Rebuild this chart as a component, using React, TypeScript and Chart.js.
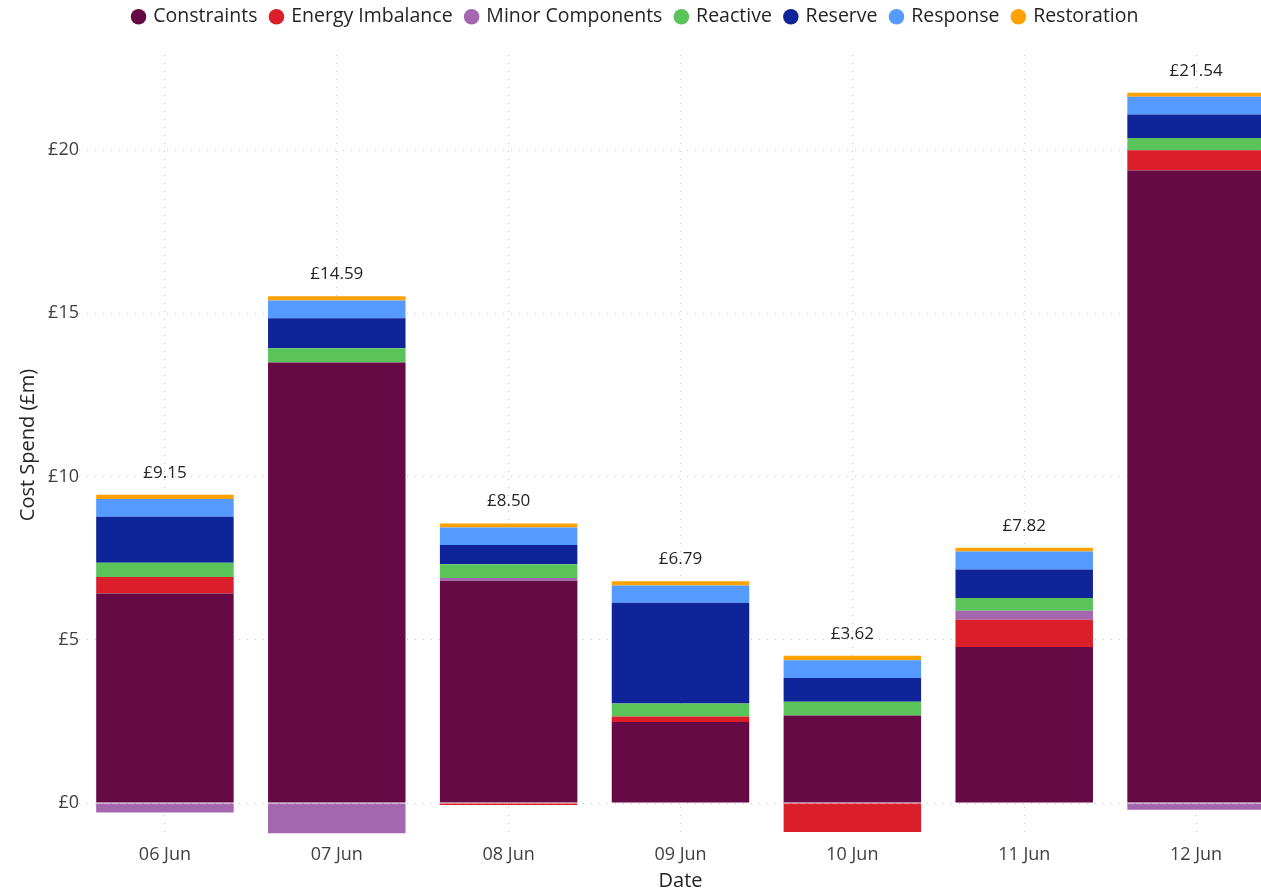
import React, { useEffect, useRef } from 'react';
import { Chart, registerables } from 'chart.js';

Chart.register(...registerables);

const categories = ['06 Jun', '07 Jun', '08 Jun', '09 Jun', '10 Jun', '11 Jun', '12 Jun'];
const constraints = [6.42, 13.49, 6.81, 2.48, 2.68, 4.78, 19.37];
const energyImbalance = [0.5, 0, -0.06, 0.17, -0.89, 0.83, 0.62];
const minorComponents = [-0.29, -0.93, 0.08, 0, 0, 0.28, -0.21];
const reactive = [0.44, 0.44, 0.42, 0.4, 0.42, 0.39, 0.38];
const reserve = [1.41, 0.92, 0.59, 3.08, 0.73, 0.87, 0.72];
const response = [0.54, 0.54, 0.54, 0.53, 0.54, 0.55, 0.54];
const restoration = [0.13, 0.13, 0.12, 0.13, 0.14, 0.12, 0.12];
const yTickValues = [0, 5, 10, 15, 20];

const seriesNames = ['Constraints', 'Energy Imbalance', 'Minor Components', 'Reactive', 'Reserve', 'Response', 'Restoration'];
const seriesValues = [constraints, energyImbalance, minorComponents, reactive, reserve, response, restoration];
const seriesColors = ['#660A46', '#DA1F2B', '#A566B0', '#5AC35A', '#10249A', '#559BFF', '#FFA200'];

const FONT = "'Open Sans', 'Noto Sans', sans-serif";

const totalsPlugin = {
  id: 'totals',
  afterDatasetsDraw(chart: any) {
    const ctx = chart.ctx;
    const xs = chart.scales.x;
    const ys = chart.scales.y;
    ctx.save();
    ctx.font = `17px ${FONT}`;
    ctx.fillStyle = '#252423';
    ctx.textAlign = 'center';
    ctx.textBaseline = 'middle';
    categories.forEach((_, i) => {
      let pos = 0;
      let total = 0;
      seriesValues.forEach((s) => {
        total += s[i];
        if (s[i] > 0) pos += s[i];
      });
      const px = xs.getPixelForValue(i);
      const py = ys.getPixelForValue(pos);
      ctx.fillText('£' + total.toFixed(2), px, py - 22);
    });
    ctx.restore();
  },
};

const legendPlugin = {
  id: 'legendFit',
  beforeInit(chart: any) {
    const orig = chart.legend.fit;
    chart.legend.fit = function () {
      orig.call(this);
      this.height = 55;
    };
  },
  afterLayout(chart: any) {
    const lg = chart.legend;
    lg.right -= 10;
    lg.top -= 7;
  },
};

export default function App() {
  const ref = useRef<HTMLCanvasElement>(null);
  useEffect(() => {
    if (!ref.current) return;
    const chart = new Chart(ref.current, {
      type: 'bar',
      data: {
        labels: categories,
        datasets: seriesNames.map((n, k) => ({
          label: n,
          data: seriesValues[k],
          backgroundColor: seriesColors[k],
          borderWidth: 0,
          barPercentage: 0.8,
          categoryPercentage: 1,
        })),
      },
      options: {
        responsive: false,
        animation: false,
        layout: { padding: 0 },
        plugins: {
          tooltip: { enabled: false },
          legend: {
            position: 'top',
            align: 'center',
            labels: {
              usePointStyle: true,
              pointStyle: 'circle',
              boxWidth: 10,
              boxHeight: 11,
              padding: 14,
              color: '#252423',
              font: { family: FONT, size: 19.5 },
            },
          },
        },
        scales: {
          x: {
            stacked: true,
            offset: true,
            grid: { display: true, offset: false, drawTicks: false, color: '#c4c4c4', lineWidth: 1 },
            border: { display: false, dash: [1, 7] },
            ticks: { color: '#404040', padding: 9, font: { family: FONT, size: 18 } },
            title: {
              display: true,
              text: 'Date',
              color: '#252423',
              padding: { top: 0, bottom: 0 },
              font: { family: FONT, size: 20 },
            },
            afterFit(scale: any) {
              scale.height = 58;
            },
          },
          y: {
            stacked: true,
            min: -0.98,
            max: 22.91,
            grid: { display: true, drawTicks: false, color: '#c4c4c4', lineWidth: 1 },
            border: { display: false, dash: [1, 7] },
            afterBuildTicks(scale: any) {
              scale.ticks = yTickValues.map((v) => ({ value: v }));
            },
            ticks: {
              color: '#404040',
              padding: 0,
              font: { family: FONT, size: 18 },
              callback: (v: any) => '£' + v,
            },
            title: {
              display: true,
              text: 'Cost Spend (£m)',
              color: '#252423',
              padding: { top: 16, bottom: 0 },
              font: { family: FONT, size: 20 },
            },
            afterFit(scale: any) {
              scale.width = 79;
            },
          },
        },
      },
      plugins: [totalsPlugin, legendPlugin],
    });
    return () => chart.destroy();
  }, []);

  return (
    <div style={{ position: 'fixed', left: 0, top: 0, width: 1261, height: 893, overflow: 'hidden', background: '#fff' }}>
      <canvas ref={ref} width={1282} height={893} style={{ display: 'block' }} />
    </div>
  );
}
